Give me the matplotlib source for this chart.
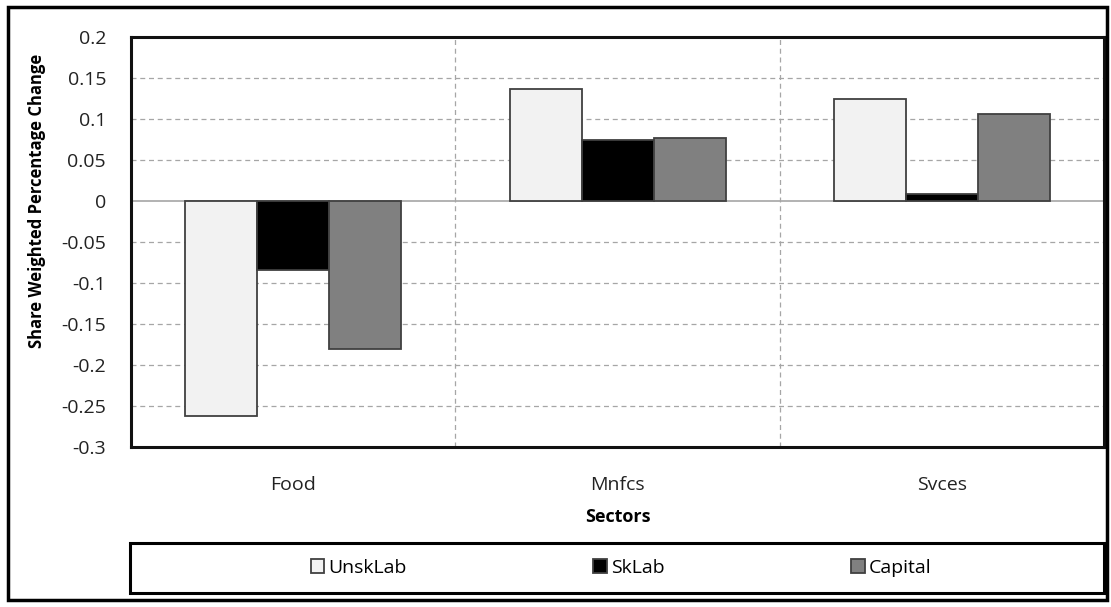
import matplotlib.pyplot as plt
import numpy as np
from matplotlib.patches import Rectangle

# Sector results
sectors = ["Food", "Mnfcs", "Svces"]
unsklab = [-0.262, 0.137, 0.125]
sklab = [-0.084, 0.075, 0.009]
capital = [-0.180, 0.077, 0.106]

series = ["UnskLab", "SkLab", "Capital"]
colors = ["#f2f2f2", "#000000", "#808080"]

plt.rcParams['font.family'] = ['Open Sans', 'DejaVu Sans']

fig = plt.figure(figsize=(11.11, 6.07), dpi=100)
ax = fig.add_axes([0.118, 0.2636, 0.8757, 0.6754])

x = np.arange(len(sectors))
width = 0.222
for i, (vals, name, c) in enumerate(zip([unsklab, sklab, capital], series, colors)):
    ax.bar(x + (i - 1) * width, vals, width, color=c, edgecolor="#404040",
           linewidth=1.3, label=name, zorder=3)

ax.set_xlim(-0.5, 2.5)
ax.set_ylim(-0.3, 0.2)
ax.set_yticks(np.arange(-0.3, 0.201, 0.05))
ax.set_yticklabels(["-0.3", "-0.25", "-0.2", "-0.15", "-0.1", "-0.05", "0",
                    "0.05", "0.1", "0.15", "0.2"])
ax.set_xticks(x)
ax.set_xticklabels(sectors)
ax.tick_params(axis="both", length=0, labelsize=14, colors="#222222")
ax.tick_params(axis="x", pad=21)
ax.tick_params(axis="y", pad=18)

# dashed grid: horizontal at every tick, vertical between sectors
for yv in np.arange(-0.25, 0.2, 0.05):
    if abs(yv) < 1e-9:
        continue
    ax.axhline(yv, color="#a6a6a6", linestyle=(0, (4, 3)), linewidth=0.9, zorder=1)
for xv in [0.5, 1.5]:
    ax.axvline(xv, color="#a6a6a6", linestyle=(0, (4, 3)), linewidth=0.9, zorder=1)
ax.axhline(0, color="#a6a6a6", linewidth=1.2, zorder=2)

for s in ax.spines.values():
    s.set_linewidth(2.2)
    s.set_color("#111111")

ax.set_ylabel("Share Weighted Percentage Change", fontweight="bold", fontsize=12)
ax.yaxis.set_label_coords(-0.087, 0.6)
ax.set_xlabel("Sectors", fontweight="bold", fontsize=13, labelpad=10)

# legend box spanning the plot width
fig.patches.append(Rectangle((0.117, 1 - 593 / 607), 0.877, 50 / 607,
                             transform=fig.transFigure, fill=False,
                             edgecolor="black", linewidth=2.2))
fig.legend(loc="center", bbox_to_anchor=(0.559, 1 - 568 / 607), ncol=3,
           frameon=False, fontsize=14, handlelength=0.7, handleheight=0.7,
           handletextpad=0.2, columnspacing=9.6)

# outer frame
fig.patches.append(Rectangle((0.007, 0.012), 0.989, 0.977, transform=fig.transFigure,
                             fill=False, edgecolor="black", linewidth=2.5))

fig.savefig("out.png", dpi=100)
